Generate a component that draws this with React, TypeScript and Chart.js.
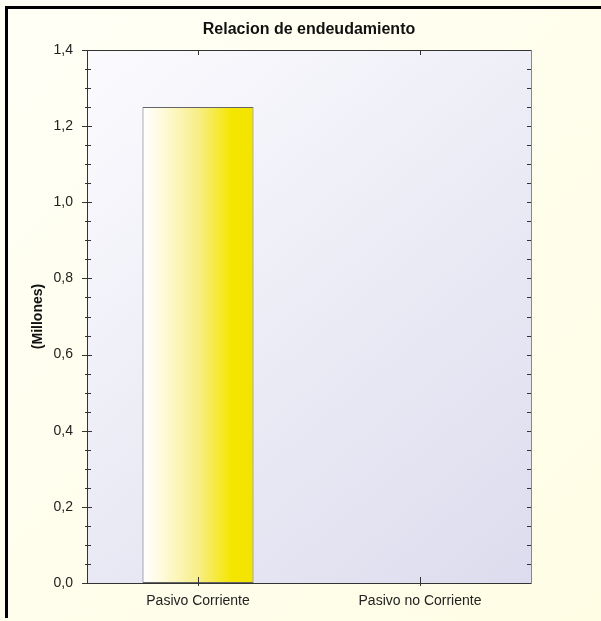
import React, { useEffect, useRef } from 'react';
import { Chart, registerables } from 'chart.js';

Chart.register(...registerables);

const categories: string[] = ['Pasivo Corriente', 'Pasivo no Corriente'];
const values: number[] = [1.25, 0];
const yMin = 0;
const yMax = 1.4;
const yStep = 0.2;
const minorPerMajor = 4;
const chartTitle = 'Relacion de endeudamiento';
const yTitle = '(Millones)';

const fmt = (v: number) => v.toFixed(1).replace('.', ',');
const px = (v: number) => Math.round(v) + 0.5;

const decor = {
  id: 'decor',
  beforeDraw(chart: any) {
    const { ctx, width, height, chartArea: a } = chart;
    ctx.save();
    const bg = ctx.createLinearGradient(0, 0, width, height);
    bg.addColorStop(0, '#fffff6');
    bg.addColorStop(1, '#fffde4');
    ctx.fillStyle = bg;
    ctx.fillRect(0, 0, width, height);
    ctx.fillStyle = '#000';
    ctx.fillRect(5, 6, width - 5, 3);
    ctx.fillRect(5, 6, 3, height - 9);
    const pg = ctx.createLinearGradient(a.left, a.top, a.right, a.bottom);
    pg.addColorStop(0, '#fbfbfe');
    pg.addColorStop(1, '#dcdcee');
    ctx.fillStyle = pg;
    ctx.fillRect(a.left, a.top, a.right - a.left, a.bottom - a.top);
    ctx.restore();
  },
  afterDatasetsDraw(chart: any) {
    const { ctx, chartArea: a } = chart;
    const y = chart.scales.y;
    const x = chart.scales.x;
    ctx.save();
    ctx.lineWidth = 1;
    ctx.strokeStyle = '#888';
    ctx.beginPath();
    ctx.moveTo(px(a.right), px(a.top));
    ctx.lineTo(px(a.right), px(a.bottom));
    ctx.stroke();
    ctx.strokeStyle = '#333';
    ctx.beginPath();
    ctx.moveTo(px(a.left), px(a.top));
    ctx.lineTo(px(a.right), px(a.top));
    ctx.moveTo(px(a.left), px(a.top));
    ctx.lineTo(px(a.left), px(a.bottom));
    ctx.lineTo(px(a.right), px(a.bottom));
    ctx.stroke();
    ctx.beginPath();
    const ticks = y.ticks;
    ticks.forEach((t: any, i: number) => {
      const p = px(y.getPixelForValue(t.value));
      ctx.moveTo(a.left - 5, p);
      ctx.lineTo(a.left + 5, p);
      ctx.moveTo(a.right - 4, p);
      ctx.lineTo(a.right, p);
      if (i < ticks.length - 1) {
        const next = ticks[i + 1].value;
        for (let k = 1; k < minorPerMajor; k++) {
          const v = t.value + ((next - t.value) * k) / minorPerMajor;
          const q = px(y.getPixelForValue(v));
          ctx.moveTo(a.left - 2, q);
          ctx.lineTo(a.left + 4, q);
          ctx.moveTo(a.right - 4, q);
          ctx.lineTo(a.right, q);
        }
      }
    });
    categories.forEach((_c, i) => {
      const p = px(x.getPixelForValue(i));
      ctx.moveTo(p, a.bottom - 6);
      ctx.lineTo(p, a.bottom + 3);
      ctx.moveTo(p, a.top);
      ctx.lineTo(p, a.top + 5);
    });
    ctx.stroke();
    ctx.restore();
  },
};

export default function App() {
  const ref = useRef<HTMLCanvasElement | null>(null);
  useEffect(() => {
    if (!ref.current) return;
    Chart.defaults.font.family = 'Arial, "Liberation Sans", sans-serif';
    const barPct = 0.5;
    const chart = new Chart(ref.current, {
      type: 'bar',
      data: {
        labels: categories,
        datasets: [
          {
            data: values,
            barPercentage: barPct,
            categoryPercentage: 1,
            borderColor: '#666',
            borderWidth: 1,
            borderSkipped: false,
            backgroundColor: (ctx: any) => {
              const c = ctx.chart;
              const xs = c.scales.x;
              if (!c.chartArea || !xs) return '#f5e600';
              const center = xs.getPixelForValue(ctx.dataIndex);
              const w = ((c.chartArea.right - c.chartArea.left) / categories.length) * barPct;
              const g = c.ctx.createLinearGradient(center - w / 2, 0, center + w / 2, 0);
              g.addColorStop(0, '#ffffff');
              g.addColorStop(0.15, '#fffbe2');
              g.addColorStop(0.5, '#f8ee88');
              g.addColorStop(0.8, '#f5e600');
              g.addColorStop(1, '#f3e400');
              return g;
            },
          },
        ],
      },
      options: {
        responsive: false,
        animation: false,
        layout: { padding: { left: 17, right: 70, top: 0, bottom: 0 } },
        plugins: {
          legend: { display: false },
          tooltip: { enabled: false },
          title: {
            display: true,
            text: chartTitle,
            fullSize: false,
            color: '#111',
            font: { size: 16, weight: 'bold' },
            padding: { top: 20.4, bottom: 10.4 },
          },
        },
        scales: {
          x: {
            grid: { display: false, drawTicks: false },
            border: { display: false },
            ticks: { padding: 9.6, color: '#222', font: { size: 14 } },
            afterFit: (s: any) => {
              s.height = 38;
            },
          },
          y: {
            min: yMin,
            max: yMax,
            grid: { display: false, drawTicks: false },
            border: { display: false },
            ticks: {
              stepSize: yStep,
              padding: 14,
              color: '#222',
              font: { size: 14 },
              callback: (v: any) => fmt(Number(v)),
            },
            title: {
              display: true,
              text: yTitle,
              color: '#111',
              font: { size: 14, weight: 'bold' },
              padding: { top: 12.6, bottom: 0 },
            },
            afterFit: (s: any) => {
              s.width = 70;
            },
          },
        },
      },
      plugins: [decor],
    } as any);
    return () => chart.destroy();
  }, []);
  return (
    <div style={{ position: 'fixed', left: 0, top: 0, width: 601, height: 621 }}>
      <canvas ref={ref} width={601} height={621} style={{ display: 'block' }} />
    </div>
  );
}
